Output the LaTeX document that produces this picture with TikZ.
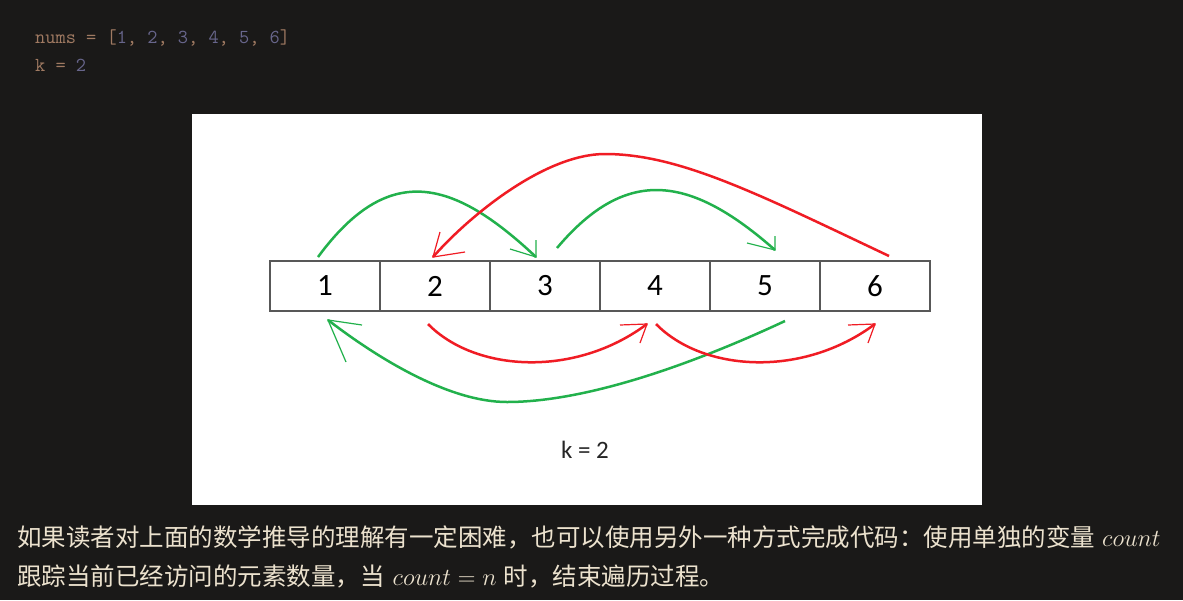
\RequirePackage{fix-cm}
\documentclass[tikz,border=0pt]{standalone}
\usepackage{fontspec}
\newfontfamily\cjkfont{Noto Sans CJK SC}
\newfontfamily\califont{Carlito}
\definecolor{bgdark}{RGB}{26,25,24}
\definecolor{codebrown}{RGB}{160,122,98}
\definecolor{codepurple}{RGB}{104,102,140}
\definecolor{cream}{RGB}{236,226,206}
\definecolor{pgreen}{RGB}{34,177,76}
\definecolor{pred}{RGB}{240,28,36}
\definecolor{cellgray}{RGB}{88,88,88}
\newcommand\codeB{\color{codebrown}}
\newcommand\codeP{\color{codepurple}}
\begin{document}
\begin{tikzpicture}[x=1pt,y=-1pt,
  code/.style={inner sep=0pt, anchor=base west, font=\ttfamily\fontsize{19.8}{22}\selectfont},
  cn/.style={inner sep=0pt, anchor=base west, text=cream, font=\cjkfont\fontsize{24.5}{28}\selectfont},
  cell/.style={draw=cellgray, line width=2.2pt, minimum width=110pt, minimum height=50pt, inner sep=0pt,
    font=\califont\fontsize{31}{36}\selectfont, text=black},
  klabel/.style={inner sep=0pt, anchor=base, font=\califont\fontsize{25}{30}\selectfont, text=black!85},
  garc/.style={draw=pgreen, line width=2.5pt},
  rarc/.style={draw=pred, line width=2.5pt},
  ghead/.style={draw=pgreen, line width=1.2pt},
  rhead/.style={draw=pred, line width=1.2pt}]
\fill[bgdark] (0,0) rectangle (1183,600);
\useasboundingbox (0,0) rectangle (1183,600);
\fill[white] (192,114) rectangle (982,505);

% code lines
\node[code] (codeA) at (35,43.5) {\codeB nums = [\codeP 1\codeB, \codeP 2\codeB, \codeP 3\codeB, \codeP 4\codeB, \codeP 5\codeB, \codeP 6\codeB]};
\node[code] (codeK) at (35,71) {\codeB k = \codeP 2};

% array cells
\node[cell] (c1) at (325,286) {1};
\node[cell] (c2) at (435,286) {2};
\node[cell] (c3) at (545,286) {3};
\node[cell] (c4) at (655,286) {4};
\node[cell] (c5) at (765,286) {5};
\node[cell] (c6) at (875,286) {6};

\node[klabel] (klab) at (585,458) {k = 2};

% endpoints
\coordinate (g1s) at (318,257);
\coordinate (g1e) at (536,257);
\coordinate (g2s) at (557,248);
\coordinate (g2e) at (775,250);
\coordinate (r1s) at (889,256);
\coordinate (r1m) at (605,154);
\coordinate (r1e) at (433,257);
\coordinate (g3s) at (785,321);
\coordinate (g3m) at (507,402);
\coordinate (g3e) at (328,320);
\coordinate (r2s) at (428,324);
\coordinate (r2e) at (647,324);
\coordinate (r3s) at (656,324);
\coordinate (r3e) at (875,324);

% green top arcs
\draw[garc] (g1s) .. controls (388,162) and (452,178) .. (g1e);
\draw[ghead] (g1e) ++(-26,-8) -- (g1e) -- ++(0,-17);
\draw[garc] (g2s) .. controls (627,165) and (691,176) .. (g2e);
\draw[ghead] (g2e) ++(-28,-7) -- (g2e) -- ++(0,-14);

% red big arc
\draw[rarc] (r1s) .. controls (760,195) and (680,154) .. (r1m)
  .. controls (545,154) and (470,215) .. (r1e);
\draw[rhead] (r1e) ++(32,-5) -- (r1e) -- ++(7,-25);

% green bottom arc
\draw[garc] (g3s) .. controls (680,370) and (580,402) .. (g3m)
  .. controls (450,402) and (380,360) .. (g3e);
\draw[ghead] (g3e) ++(34,5) -- (g3e) -- ++(18,42);

% red bottom arcs
\draw[rarc] (r2s) .. controls (475,372) and (575,378) .. (r2e);
\draw[rhead] (r2e) ++(-27,1) -- (r2e) -- ++(-7,19);
\draw[rarc] (r3s) .. controls (703,372) and (803,378) .. (r3e);
\draw[rhead] (r3e) ++(-27,1) -- (r3e) -- ++(-7,19);

% explanatory text
\node[cn] (para1) at (17,546) {如果读者对上面的数学推导的理解有一定困难，也可以使用另外一种方式完成代码：使用单独的变量\hspace{7pt}$count$};
\node[cn] (para2) at (17,585) {跟踪当前已经访问的元素数量，当\hspace{8pt}$count=n$\hspace{7pt}时，结束遍历过程。};
\end{tikzpicture}
\end{document}
